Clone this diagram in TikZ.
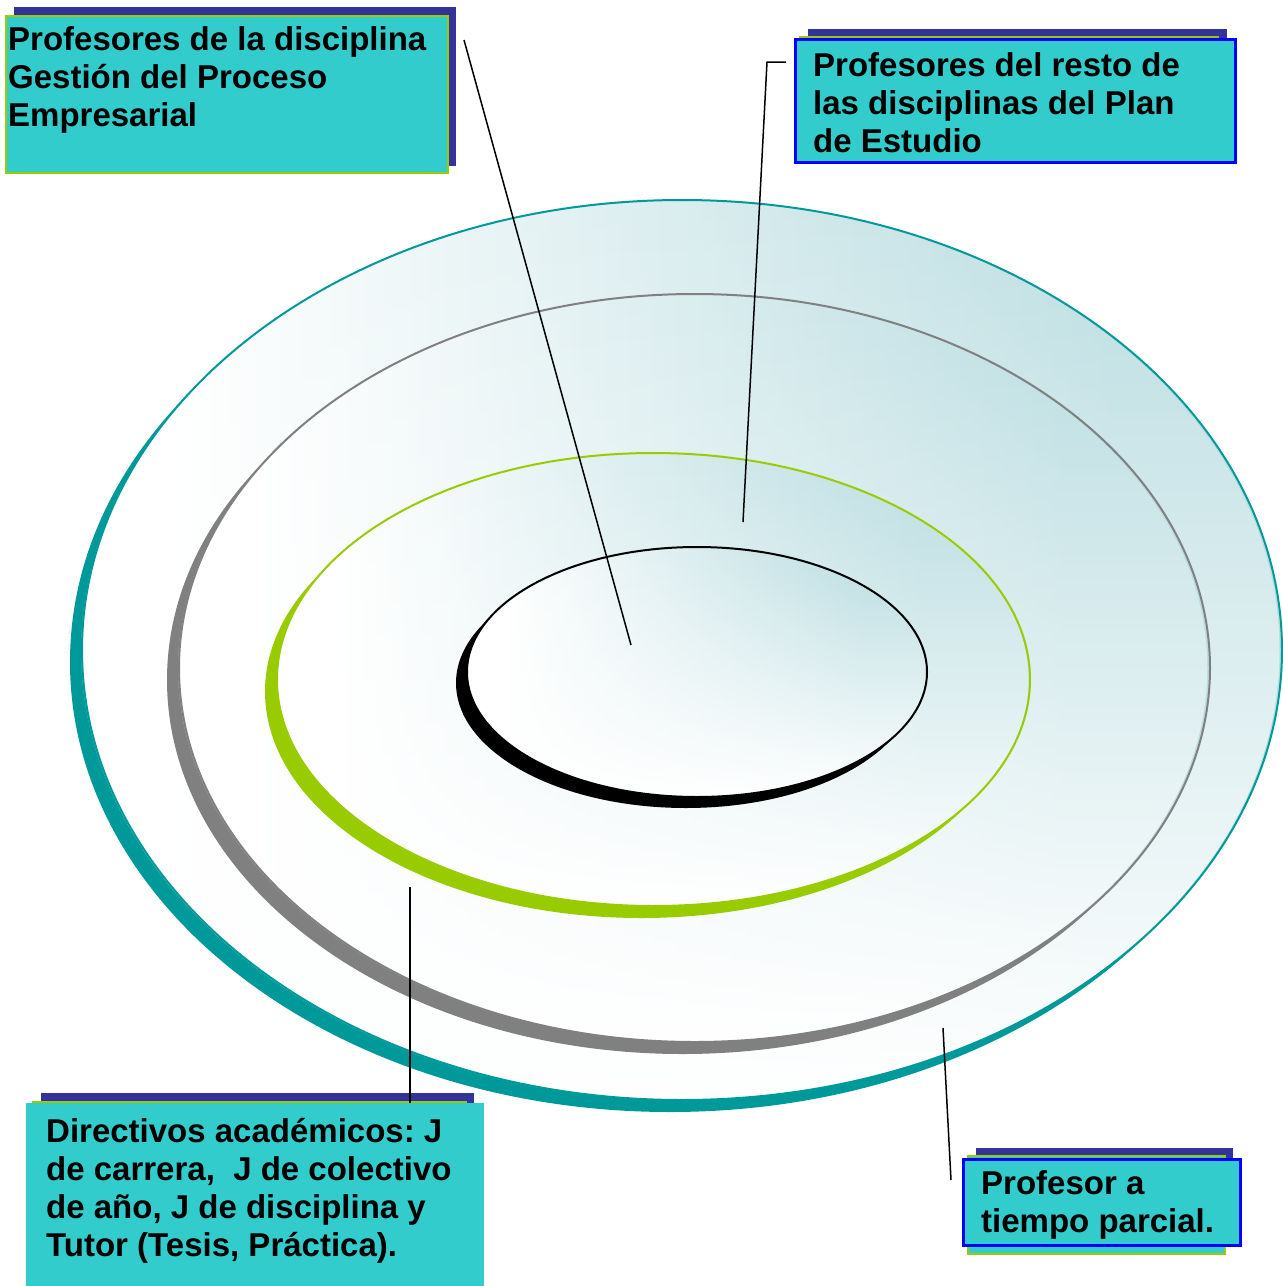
\documentclass[tikz,border=0pt]{standalone}
\usepackage{fontspec}
\setmainfont{Liberation Sans}
\usetikzlibrary{fadings}
\frenchspacing
\definecolor{tealc}{HTML}{009999}
\definecolor{grayc}{HTML}{808080}
\definecolor{greenc}{HTML}{99CC00}
\definecolor{cyanc}{HTML}{33CCCC}
\definecolor{dblue}{HTML}{333399}
\definecolor{blueb}{HTML}{0000FF}
\definecolor{glowc}{RGB}{186,221,225}
\pgfdeclarehorizontalshading{hglow}{100bp}{color(0bp)=(white); color(29bp)=(white); color(68bp)=(glowc); color(100bp)=(glowc)}
\tikzfading[name=fadebot, top color=transparent!100, middle color=transparent!70, bottom color=transparent!0]
\begin{document}
\begin{tikzpicture}[x=1pt,y=-1pt,
  backbox/.style={fill=dblue, draw=none, inner sep=0pt, outer sep=0pt, anchor=north west},
  frontbox/.style={fill=cyanc, draw=greenc, line width=1.5pt, inner sep=0pt, outer sep=0pt, anchor=north west},
  plainbox/.style={fill=cyanc, draw=none, inner sep=0pt, outer sep=0pt, anchor=north west},
  bluebox/.style={fill=cyanc, draw=blueb, line width=3pt, inner sep=0pt, outer sep=0pt, anchor=north west},
  lbl/.style={font=\bfseries\fontsize{33}{38}\selectfont, anchor=north west, inner sep=0pt, align=left},
  conn/.style={draw=black, line width=1.5pt},
  ring/.style={shading=hglow, shade, postaction={fill=white, path fading=fadebot}}]
\useasboundingbox (0,0) rectangle (1283,1286);

% outer ring
\fill[tealc] (670,662) ellipse [x radius=600, y radius=450];
\path[ring] (682,650) ellipse [x radius=600, y radius=450];
\draw[tealc, line width=2pt] (682,650) ellipse [x radius=600, y radius=450];
% gray ring
\fill[grayc] (682.5,680) ellipse [x radius=515.5, y radius=374];
\path[ring] (694.5,668) ellipse [x radius=515.5, y radius=374];
\draw[grayc, line width=2pt] (694.5,668) ellipse [x radius=515.5, y radius=374];
% green ring
\fill[greenc] (641.5,691.5) ellipse [x radius=376.5, y radius=226.5];
\path[ring] (653.5,679.5) ellipse [x radius=376.5, y radius=226.5];
\draw[greenc, line width=2pt] (653.5,679.5) ellipse [x radius=376.5, y radius=226.5];
% black ring
\fill[black] (686,683) ellipse [x radius=230, y radius=125];
\path[ring] (697,672) ellipse [x radius=230, y radius=125];
\draw[black, line width=2pt] (697,672) ellipse [x radius=230, y radius=125];

% connector end points
\coordinate (e1) at (631,645);
\coordinate (s1) at (464,40);
\coordinate (e2) at (743,522);
\coordinate (k2) at (767,62);
\coordinate (s2) at (786,62);
\coordinate (e3) at (410,887);
\coordinate (e4) at (943,1028);
\coordinate (s4) at (951,1180);

% box 1
\node[backbox, minimum width=442pt, minimum height=159pt] (b1back) at (14,7) {};
\node[frontbox, minimum width=442pt, minimum height=157pt] (b1) at (6,16) {};
\node[lbl] (t1) at (8,26) {Profesores de la disciplina\\Gestión del Proceso\\Empresarial};

% box 2
\node[backbox, minimum width=419pt, minimum height=120pt] (b2back) at (808,29) {};
\node[frontbox, minimum width=418pt, minimum height=121pt] (b2mid) at (800,37) {};
\node[bluebox, minimum width=440pt, minimum height=123pt] (b2) at (795.5,39.5) {};
\node[lbl] (t2) at (813,52) {Profesores del resto de\\las disciplinas del Plan\\de Estudio};

% box 3
\node[backbox, minimum width=433pt, minimum height=120pt] (b3back) at (41,1093) {};
\node[frontbox, minimum width=433pt, minimum height=190pt] (b3mid) at (33,1102) {};
\node[plainbox, minimum width=458pt, minimum height=190pt] (b3) at (26,1103) {};
\node[lbl] (t3) at (46,1118) {Directivos académicos: J\\de carrera, \ J de colectivo\\de año, J de disciplina y\\Tutor (Tesis, Práctica).};

% box 4
\node[backbox, minimum width=257pt, minimum height=92pt] (b4back) at (976,1148) {};
\node[frontbox, minimum width=257pt, minimum height=98pt] (b4mid) at (968,1156) {};
\node[bluebox, minimum width=277pt, minimum height=86pt] (b4) at (963.5,1159.5) {};
\node[lbl] (t4) at (981,1170) {Profesor a\\tiempo parcial.};

% connectors
\draw[conn] (s1) -- (e1);
\draw[conn] (e2) -- (k2) -- (s2);
\draw[conn] (e3) -- (b3.north -| e3);
\draw[conn] (e4) -- (s4);
\end{tikzpicture}
\end{document}
